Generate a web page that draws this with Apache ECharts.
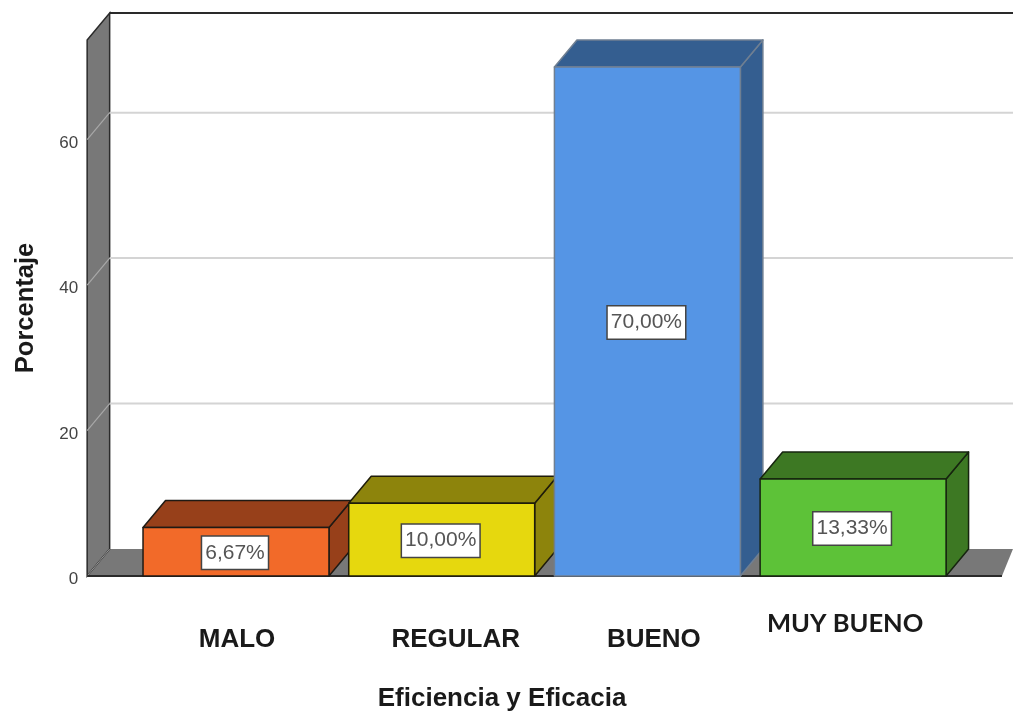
<!DOCTYPE html>
<html>
<head>
<meta charset="utf-8">
<style>html,body{margin:0;padding:0;background:#fff}#chart{width:1013px;height:711px;filter:blur(0.45px)}</style>
<script src="https://cdn.jsdelivr.net/npm/echarts@6/dist/echarts.min.js"></script>
</head>
<body>
<div id="chart"></div>
<script>
const categories = ['MALO', 'REGULAR', 'BUENO', 'MUY BUENO'];
const values = [6.67, 10.00, 70.00, 13.33];
const yTicks = [20, 40, 60];
const xTitle = 'Eficiencia y Eficacia';
const yTitle = 'Porcentaje';

const frontColors = ['#F26A29', '#E6D80E', '#5595E5', '#5DC238'];
const sideColors = ['#97401A', '#8D840C', '#345E90', '#3D7823'];
const edgeColors = ['#1f1a14', '#1f1c0a', '#6f7f92', '#16240f'];

const depthX = 22.5, depthY = 27, wallGap = 46, barRatio = 0.904;
const labelStyles = {
  c0: {padding: [16, 0, 0, 2]},
  c1: {padding: [16, 0, 0, 28]},
  c2: {padding: [16, 0, 0, 13]},
  c3: {padding: [0, 16, 0, 0], fontFamily: 'Lato', fontSize: 25.5}
};

function renderFrame(params, api) {
  const g = params.coordSys;
  const base = api.coord([0, 0])[1];
  const top = g.y, L = g.x - wallGap, R = g.x + g.width + wallGap;
  const wall = '#787878', dark = '#2a2a2a';
  const children = [
    {type: 'polygon', shape: {points: [[L + depthX, base - depthY], [R + 11, base - depthY], [R, base], [L, base]]},
      style: {fill: wall}},
    {type: 'polygon', shape: {points: [[L, top], [L + depthX, top - depthY], [L + depthX, base - depthY], [L, base]]},
      style: {fill: wall, stroke: dark, lineWidth: 1.5}},
    {type: 'line', shape: {x1: L + depthX, y1: base - depthY, x2: L, y2: base}, style: {stroke: '#999', lineWidth: 1}},
    {type: 'line', shape: {x1: L + depthX, y1: top - depthY, x2: 1013, y2: top - depthY}, style: {stroke: dark, lineWidth: 2}},
    {type: 'line', shape: {x1: L, y1: base, x2: R, y2: base}, style: {stroke: dark, lineWidth: 2}}
  ];
  yTicks.forEach(v => {
    const y = api.coord([0, v])[1];
    children.push(
      {type: 'line', shape: {x1: L, y1: y, x2: L + depthX, y2: y - depthY}, style: {stroke: '#a8a8a8', lineWidth: 1.2}},
      {type: 'line', shape: {x1: L + depthX, y1: y - depthY, x2: 1013, y2: y - depthY}, style: {stroke: '#d4d4d4', lineWidth: 2}}
    );
  });
  return {type: 'group', children};
}

function renderBar(params, api) {
  const i = api.value(0), v = api.value(1);
  const c = api.coord([i, v]), o = api.coord([i, 0]);
  const w = api.size([1, 0])[0] * barRatio;
  const x0 = c[0] - w / 2, x1 = c[0] + w / 2, yT = c[1], yB = o[1];
  const edge = {stroke: edgeColors[i], lineWidth: 1.5, lineJoin: 'round'};
  return {type: 'group', children: [
    {type: 'polygon', shape: {points: [[x1, yT], [x1 + depthX, yT - depthY], [x1 + depthX, yB - depthY], [x1, yB]]},
      style: Object.assign({fill: sideColors[i]}, edge)},
    {type: 'polygon', shape: {points: [[x0, yT], [x0 + depthX, yT - depthY], [x1 + depthX, yT - depthY], [x1, yT]]},
      style: Object.assign({fill: sideColors[i]}, edge)},
    {type: 'rect', shape: {x: x0, y: yT, width: w, height: yB - yT},
      style: Object.assign({fill: frontColors[i]}, edge)},
    {type: 'text', x: c[0] - 1, y: (yT + yB) / 2 + 1, style: {
      text: v.toFixed(2).replace('.', ',') + '%',
      font: '21px "Liberation Sans"', fill: '#555',
      align: 'center', verticalAlign: 'middle',
      backgroundColor: '#fff', borderColor: '#444', borderWidth: 1.5,
      padding: [6, 3, 5, 3]
    }}
  ]};
}

const chart = echarts.init(document.getElementById('chart'), null, {renderer: 'canvas'});
chart.setOption({
  animation: false,
  backgroundColor: '#fff',
  grid: {left: 133.15, right: 57.05, top: 40, bottom: 135, outerBoundsMode: 'none'},
  xAxis: {
    type: 'category', data: categories,
    axisLine: {show: false}, axisTick: {show: false},
    axisLabel: {
      margin: 35, interval: 0,
      color: '#1a1a1a', fontFamily: 'Liberation Sans', fontWeight: 'bold', fontSize: 26,
      formatter: (v, i) => `{c${i}|${v}}`, rich: labelStyles
    },
    name: xTitle, nameLocation: 'middle', nameGap: 110,
    nameTextStyle: {color: '#1a1a1a', fontFamily: 'Liberation Sans', fontWeight: 'bold', fontSize: 26, padding: [0, 85, 0, 0]}
  },
  yAxis: {
    type: 'value', min: 0, max: 73.7, interval: 20, offset: wallGap,
    axisLine: {show: false}, axisTick: {show: false}, splitLine: {show: false},
    axisLabel: {
      margin: 9, showMaxLabel: false, color: '#444', fontFamily: 'Liberation Sans', fontSize: 17,
      formatter: v => `{t|${v}}`, rich: {t: {padding: [7, 0, 0, 0]}}
    },
    name: yTitle, nameLocation: 'middle', nameGap: 48, nameRotate: 90,
    nameTextStyle: {color: '#1a1a1a', fontFamily: 'Liberation Sans', fontWeight: 'bold', fontSize: 25.5, padding: [0, 0, 0, 0]}
  },
  series: [
    {type: 'custom', silent: true, clip: false, z: 1, renderItem: renderFrame, data: [[0, 0]], encode: {x: 0, y: 1}},
    {type: 'custom', silent: true, clip: false, z: 2, renderItem: renderBar,
      data: values.map((v, i) => [i, v]), encode: {x: 0, y: 1}}
  ]
});
</script>
</body>
</html>
